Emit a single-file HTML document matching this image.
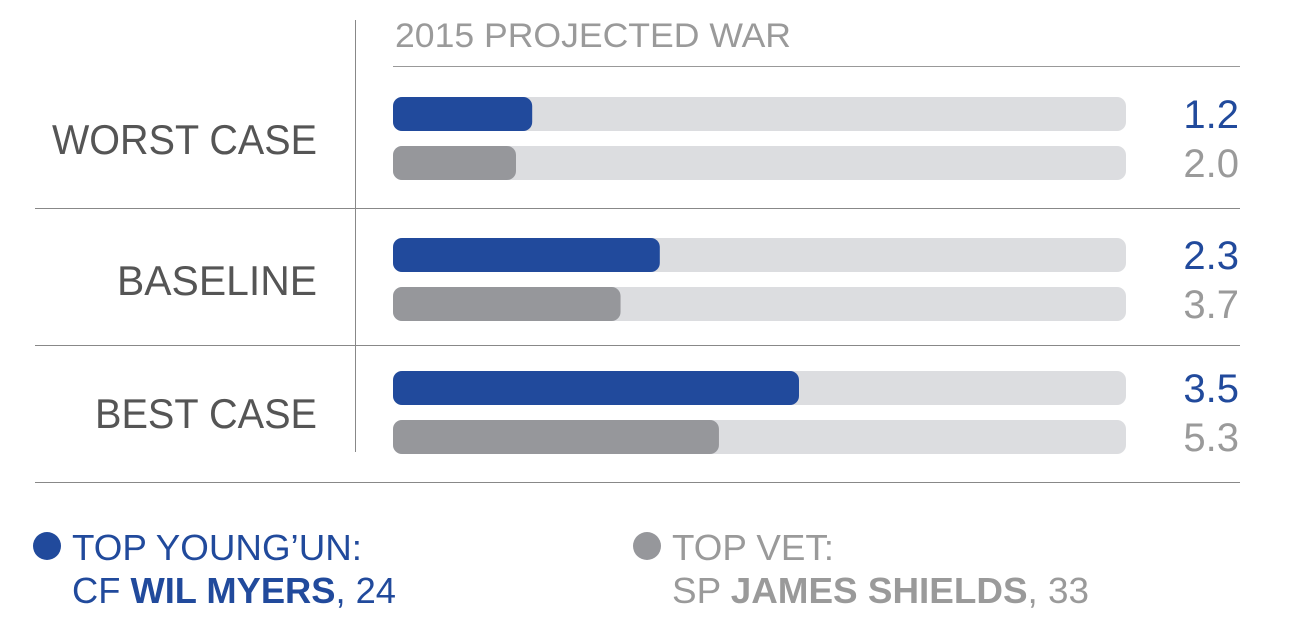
<!DOCTYPE html>
<html><head><meta charset="utf-8"><style>
html,body{margin:0;padding:0;background:#fff;}
svg{display:block;font-family:"Liberation Sans",sans-serif;}
</style></head><body>
<svg id="chart" width="1296" height="636" viewBox="0 0 1296 636">
<text x="395" y="47" font-size="34" fill="#9a9a9a" textLength="396" lengthAdjust="spacingAndGlyphs">2015 PROJECTED WAR</text>
<line x1="393" y1="66.5" x2="1240" y2="66.5" stroke="#999" stroke-width="1"/>
<line x1="355.5" y1="20" x2="355.5" y2="452" stroke="#888" stroke-width="1"/>
<line x1="35" y1="208.5" x2="1240" y2="208.5" stroke="#888" stroke-width="1"/>
<line x1="35" y1="345.5" x2="1240" y2="345.5" stroke="#888" stroke-width="1"/>
<line x1="35" y1="482.5" x2="1240" y2="482.5" stroke="#888" stroke-width="1"/>
<g id="rows"></g>
<g>
<circle cx="47" cy="546" r="14" fill="#214a9c"/>
<text x="72" y="560" font-size="36" fill="#214a9c" textLength="290" lengthAdjust="spacingAndGlyphs">TOP YOUNG’UN:</text>
<text x="72" y="603" font-size="36" fill="#214a9c" textLength="324" lengthAdjust="spacingAndGlyphs">CF <tspan font-weight="bold">WIL MYERS</tspan>, 24</text>
<circle cx="647" cy="546" r="14" fill="#96979b"/>
<text x="672" y="560" font-size="36" fill="#9a9a9a" textLength="162" lengthAdjust="spacingAndGlyphs">TOP VET:</text>
<text x="672" y="603" font-size="36" fill="#9a9a9a" textLength="417" lengthAdjust="spacingAndGlyphs">SP <tspan font-weight="bold">JAMES SHIELDS</tspan>, 33</text>
</g>
</svg>
<script>
const categories = ["WORST CASE", "BASELINE", "BEST CASE"];
const youngValues = [1.2, 2.3, 3.5];
const vetValues = [2.0, 3.7, 5.3];
const labelWidths = [265, 200, 222];

const NS = "http://www.w3.org/2000/svg";
const g = document.getElementById("rows");
const trackX = 393, trackW = 733, barH = 34;
const rowTop = [97, 238, 371];
const gap = 49;
function xYoung(v){ return v * 116; }
function xVet(v){ return v * 61.5; }
function mk(tag, attrs){ const e = document.createElementNS(NS, tag); for (const k in attrs) e.setAttribute(k, attrs[k]); g.appendChild(e); return e; }

categories.forEach((c, i) => {
  const y0 = rowTop[i];
  const lab = mk("text", {x: 317, y: y0 + 57, "font-size": 42, fill: "#555", "text-anchor": "end", textLength: labelWidths[i], lengthAdjust: "spacingAndGlyphs"});
  lab.textContent = c;
  
  
  [[youngValues[i], xYoung, "#214a9c", "#214a9c", 0, "young"], [vetValues[i], xVet, "#96979b", "#9a9a9a", gap, "vet"]].forEach(([v, sc, col, tcol, dy, key]) => {
    const y = y0 + dy;
    const t = mk("rect", {x: trackX, y: y, width: trackW, height: barH, rx: 9, fill: "#dcdde0"});
    
    
    const b = mk("rect", {x: trackX, y: y, width: Math.min(sc(v), trackW), height: barH, rx: 9, fill: col});
    
    
    const vt = mk("text", {x: 1239, y: y + 31, "font-size": 40, fill: tcol, "text-anchor": "end"});
    vt.textContent = v.toFixed(1);
    
    
  });
});
</script>
</body></html>
